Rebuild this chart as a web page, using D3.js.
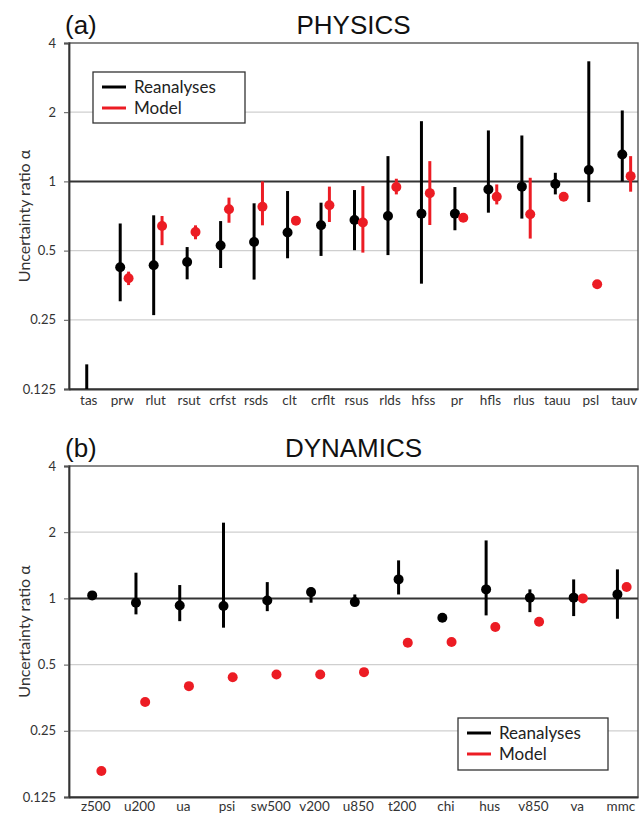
<!DOCTYPE html>
<html><head><meta charset="utf-8">
<script src="https://cdn.jsdelivr.net/npm/d3@7"></script>
<style>body{margin:0;background:#fff}svg{display:block}</style>
</head><body>
<svg id="c" width="640" height="816"></svg>
<script>
// ---------- DATA ----------
const yTicks = [0.125, 0.25, 0.5, 1, 2, 4];
const yTickLabels = ["0.125", "0.25", "0.5", "1", "2", "4"];
const legendLabels = ["Reanalyses", "Model"];

const physCats = ["tas","prw","rlut","rsut","crfst","rsds","clt","crflt","rsus","rlds","hfss","pr","hfls","rlus","tauu","psl","tauv"];
const physReanVal = [0.11, 0.423, 0.432, 0.446, 0.526, 0.545, 0.599, 0.644, 0.679, 0.707, 0.724, 0.724, 0.923, 0.949, 0.975, 1.12, 1.31];
const physReanLo  = [0.09, 0.301, 0.262, 0.375, 0.42, 0.374, 0.463, 0.474, 0.502, 0.478, 0.359, 0.613, 0.731, 0.689, 0.878, 0.813, 1.0];
const physReanHi  = [0.16, 0.656, 0.712, 0.518, 0.672, 0.803, 0.908, 0.808, 0.917, 1.288, 1.828, 0.945, 1.666, 1.584, 1.09, 3.33, 2.035];
const physModVal  = [null, 0.379, 0.64, 0.602, 0.756, 0.776, 0.675, 0.787, 0.662, 0.946, 0.889, 0.695, 0.858, 0.719, 0.858, 0.357, 1.054];
const physModLo   = [null, 0.354, 0.528, 0.56, 0.661, 0.644, null, 0.666, 0.49, 0.878, 0.646, null, 0.794, 0.564, null, null, 0.902];
const physModHi   = [null, 0.405, 0.707, 0.644, 0.85, 1.0, null, 0.949, 0.954, 1.027, 1.225, null, 0.97, 1.037, null, null, 1.288];

const dynCats = ["z500","u200","ua","psi","sw500","v200","u850","t200","chi","hus","v850","va","mmc"];
const dynReanVal = [1.032, 0.956, 0.929, 0.923, 0.979, 1.068, 0.962, 1.22, 0.817, 1.099, 1.008, 1.008, 1.043];
const dynReanLo  = [1.0, 0.846, 0.788, 0.736, 0.875, 0.956, 0.923, 1.042, null, 0.837, 0.866, 0.831, 0.808];
const dynReanHi  = [1.06, 1.309, 1.15, 2.21, 1.186, 1.119, 1.042, 1.489, null, 1.835, 1.099, 1.22, 1.355];
const dynModVal  = [0.164, 0.338, 0.399, 0.438, 0.451, 0.451, 0.462, 0.629, 0.633, 0.741, 0.783, 1.0, 1.126];

// ---------- DRAW ----------
const svg = d3.select("#c");
const RED = "#ec1c24";
const FONT = "Lato, 'Open Sans', sans-serif";

function panel(cfg){
  const g = svg.append("g");
  const x = d3.scaleBand().domain(cfg.cats).range([cfg.left, cfg.right]);
  const step = x.step();
  const y = d3.scaleLog().base(2).domain([0.125, 4]).range([cfg.bottom, cfg.top]);
  const cid = "clip" + cfg.id;
  svg.append("clipPath").attr("id", cid).append("rect")
    .attr("x", cfg.left).attr("y", cfg.top).attr("width", cfg.right - cfg.left).attr("height", cfg.bottom - cfg.top);

  // gridlines
  g.selectAll("line.grid").data(yTicks.filter(t => t !== 1 && t !== 0.125 && t !== 4)).join("line")
    .attr("x1", cfg.left).attr("x2", cfg.right).attr("y1", d => y(d)).attr("y2", d => y(d))
    .attr("stroke", "#cfcfcf").attr("stroke-width", 1.3);

  // frame
  g.append("rect").attr("x", cfg.left).attr("y", cfg.top).attr("width", cfg.right - cfg.left).attr("height", cfg.bottom - cfg.top)
    .attr("fill", "none").attr("stroke", "#555").attr("stroke-width", 1.4);

  // y axis
  const ya = g.append("g").attr("transform", `translate(${cfg.left},0)`)
    .call(d3.axisLeft(y).tickValues(yTicks).tickFormat((d, i) => yTickLabels[i]).tickSize(5).tickPadding(8));
  ya.select(".domain").attr("stroke", "#333").attr("stroke-width", 1.8);
  ya.selectAll(".tick line").attr("stroke", "#555");
  ya.selectAll("text").attr("font-family", FONT).attr("font-size", 13).attr("fill", "#333");

  // reference line at 1
  g.append("line").attr("x1", cfg.left).attr("x2", cfg.right).attr("y1", y(1)).attr("y2", y(1))
    .attr("stroke", "#333").attr("stroke-width", 2);

  // x axis
  const xa = g.append("g").attr("transform", `translate(0,${cfg.bottom})`)
    .call(d3.axisBottom(x).tickSize(0).tickPadding(cfg.xPad));
  xa.select(".domain").attr("stroke", "#333").attr("stroke-width", 1.8);
  xa.selectAll("text").attr("font-family", FONT).attr("font-size", 13.5).attr("fill", "#333")
    .attr("dx", cfg.labelOff * step);

  const cx = (c, off) => x(c) + step / 2 + off * step;
  const marks = g.append("g").attr("clip-path", `url(#${cid})`);

  function series(vals, lo, hi, color, off){
    const d = cfg.cats.map((c, i) => ({c, v: vals[i], lo: lo ? lo[i] : null, hi: hi ? hi[i] : null}));
    marks.selectAll(null).data(d.filter(e => e.lo != null && e.hi != null)).join("line")
      .attr("x1", e => cx(e.c, off)).attr("x2", e => cx(e.c, off))
      .attr("y1", e => y(e.lo)).attr("y2", e => y(e.hi))
      .attr("stroke", color).attr("stroke-width", 3);
    marks.selectAll(null).data(d.filter(e => e.v != null)).join("circle")
      .attr("cx", e => cx(e.c, off)).attr("cy", e => y(e.v)).attr("r", 5)
      .attr("fill", color);
  }
  series(cfg.rv, cfg.rlo, cfg.rhi, "#000", cfg.blackOff);
  series(cfg.mv, cfg.mlo, cfg.mhi, RED, cfg.redOff);

  // y title
  g.append("text").attr("transform", `translate(${cfg.left - 39},${(cfg.top + cfg.bottom) / 2}) rotate(-90)`)
    .attr("text-anchor", "middle").attr("font-family", FONT).attr("font-size", 16).attr("fill", "#333")
    .text("Uncertainty ratio α");

  // panel letter & title
  g.append("text").attr("x", cfg.left - 4).attr("y", cfg.top - 9).attr("font-family", "'Liberation Sans', Arial, sans-serif")
    .attr("font-size", 26).attr("fill", "#111").text(cfg.letter);
  g.append("text").attr("x", (cfg.left + cfg.right) / 2).attr("y", cfg.top - 9).attr("text-anchor", "middle")
    .attr("font-family", "'Liberation Sans', Arial, sans-serif").attr("font-size", 26).attr("fill", "#111").text(cfg.title);

  // legend
  const L = cfg.legend;
  const lg = g.append("g").attr("transform", `translate(${L.x},${L.y})`);
  lg.append("rect").attr("width", L.w).attr("height", L.h).attr("fill", "#fff").attr("stroke", "#333").attr("stroke-width", 1.3);
  [["#000", 0], [RED, 1]].forEach(([col, i]) => {
    const yy = 15 + i * 21;
    lg.append("line").attr("x1", 9).attr("x2", 33).attr("y1", yy).attr("y2", yy).attr("stroke", col).attr("stroke-width", 3);
    lg.append("text").attr("x", 41).attr("y", yy + 6).attr("font-family", FONT).attr("font-size", 17).attr("fill", "#222").text(legendLabels[i]);
  });
}

panel({id: "a", letter: "(a)", title: "PHYSICS", cats: physCats, left: 69, right: 638, top: 43, bottom: 389,
  rv: physReanVal, rlo: physReanLo, rhi: physReanHi, mv: physModVal, mlo: physModLo, mhi: physModHi,
  blackOff: 0.03, redOff: 0.28, labelOff: 0.09, xPad: 6,
  legend: {x: 93, y: 72, w: 152, h: 51}});

panel({id: "b", letter: "(b)", title: "DYNAMICS", cats: dynCats, left: 69, right: 638, top: 466, bottom: 797,
  rv: dynReanVal, rlo: dynReanLo, rhi: dynReanHi, mv: dynModVal, mlo: null, mhi: null,
  blackOff: 0.03, redOff: 0.24, labelOff: 0.11, xPad: 4,
  legend: {x: 458, y: 718, w: 150, h: 52}});
</script>
</body></html>
